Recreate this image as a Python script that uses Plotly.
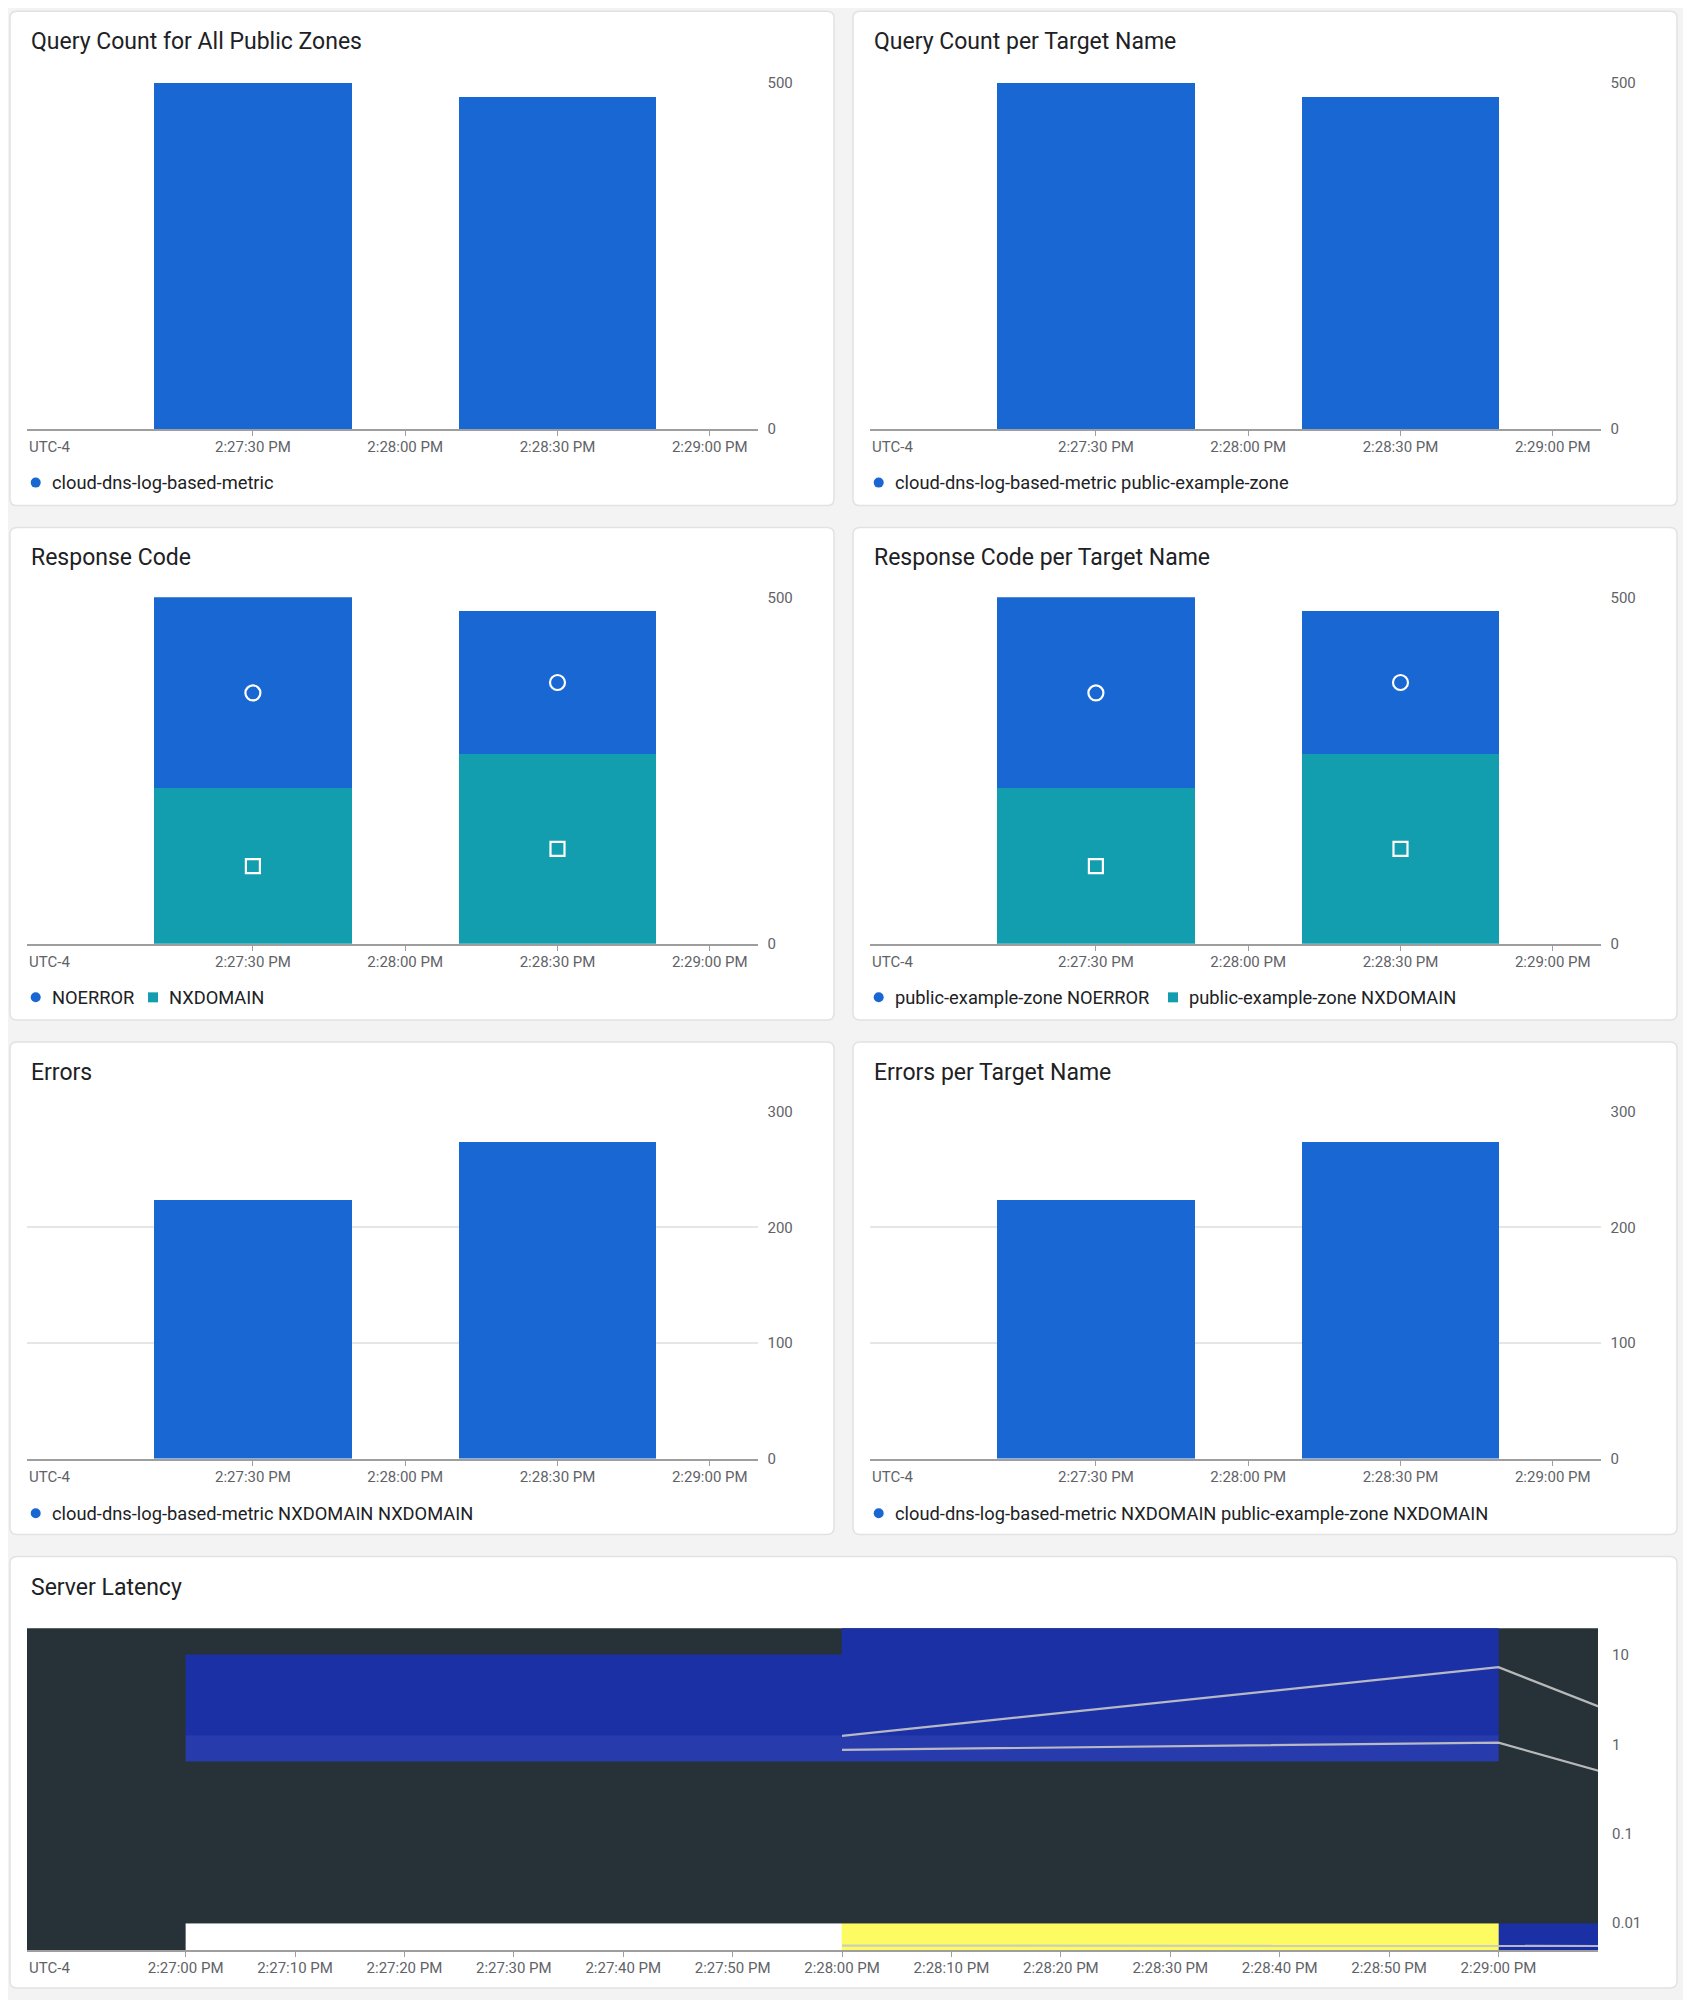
import plotly.graph_objects as go

# placement of the figure in the rendered page: body offset and vertical squeeze
OX, OY, SY = 8, 16, 2000 / 2016
WF, HF = 1675, 1992
DAY = "2023-06-01 "

# ---------------- data ----------------
bar_times = ["14:27:30", "14:28:30"]
query_count = [500, 480]
query_count_target = [500, 480]
noerror = [276, 206]
nxdomain = [224, 274]
errors = [224, 274]
errors_target = [224, 274]

bar_tick_times = ["14:27:30", "14:28:00", "14:28:30", "14:29:00"]
bar_tick_labels = ["2:27:30 PM", "2:28:00 PM", "2:28:30 PM", "2:29:00 PM"]
count_ticks = [0, 500]
error_ticks = [0, 100, 200, 300]

heat_time_edges = ["14:27:00", "14:28:00", "14:29:00", "14:30:00"]
latency_edges = [0.001, 0.01, 0.02, 0.04, 0.08, 0.16, 0.32, 0.64, 1.28, 2.56, 5.12, 10.24, 20.48]
# query counts per latency bucket (low -> high) for each minute column
latency_counts = [
    [497, 474, 1],   # < 0.01
    [0, 0, 0],       # 0.01 - 0.02
    [0, 0, 0],       # 0.02 - 0.04
    [0, 0, 0],       # 0.04 - 0.08
    [0, 0, 0],       # 0.08 - 0.16
    [0, 0, 0],       # 0.16 - 0.32
    [0, 0, 0],       # 0.32 - 0.64
    [2, 2, 0],       # 0.64 - 1.28
    [1, 1, 0],       # 1.28 - 2.56
    [1, 1, 0],       # 2.56 - 5.12
    [1, 1, 0],       # 5.12 - 10.24
    [0, 1, 0],       # 10.24 - 20.48
]
pct_times = ["14:28:00", "14:29:00", "14:30:00"]
p99 = [1.25, 7.35, 0.0095]
p95 = [0.87, 1.05, 0.009]
p50 = [0.0056, 0.0056, 0.0055]
heat_tick_times = ["14:27:00", "14:27:10", "14:27:20", "14:27:30", "14:27:40", "14:27:50",
                   "14:28:00", "14:28:10", "14:28:20", "14:28:30", "14:28:40", "14:28:50", "14:29:00"]
heat_tick_labels = ["2:27:00 PM", "2:27:10 PM", "2:27:20 PM", "2:27:30 PM", "2:27:40 PM", "2:27:50 PM",
                    "2:28:00 PM", "2:28:10 PM", "2:28:20 PM", "2:28:30 PM", "2:28:40 PM", "2:28:50 PM",
                    "2:29:00 PM"]
latency_ticks = [0.01, 0.1, 1, 10]
latency_tick_labels = ["0.01", "0.1", "1", "10"]

titles = ["Query Count for All Public Zones", "Query Count per Target Name",
          "Response Code", "Response Code per Target Name",
          "Errors", "Errors per Target Name", "Server Latency"]

# ---------------- style ----------------
BLUE = "#1967d2"
TEAL = "#129eaf"
FONT = "Roboto"
TXT = "#202124"
TICK = "#5f6368"
AXIS = "#9e9e9e"
GRID = "#e6e6e6"
BAR_W = 39000  # ms


def t(s):
    return DAY + s


def PX(x):
    return (x - OX) / WF


def PY(y):
    return 1 - (y / SY - OY) / HF


X_RANGE = [t("14:26:45.5"), t("14:29:09.4")]
X_RANGE_HEAT = [t("14:26:45.5"), t("14:29:09.1")]

fig = go.Figure()

# panel pixel boxes (target picture coordinates): (x0, x1, y0, y1)
boxes = {
    1: (27, 757.5, 81.6, 428.5),
    2: (870, 1600.5, 81.6, 428.5),
    3: (27, 757.5, 596.8, 943.7),
    4: (870, 1600.5, 596.8, 943.7),
    5: (27, 757.5, 1112, 1459),
    6: (870, 1600.5, 1112, 1459),
    7: (27, 1598, 1629, 1951),
}


def ax(n):
    return ("x" if n == 1 else f"x{n}"), ("y" if n == 1 else f"y{n}")


def bar(n, ys, color):
    xa, ya = ax(n)
    fig.add_trace(go.Bar(x=[t(s) for s in bar_times], y=ys, width=[BAR_W] * len(ys),
                         marker=dict(color=color, line=dict(width=0)),
                         xaxis=xa, yaxis=ya, showlegend=False, hoverinfo="skip"))


bar(1, query_count, BLUE)
bar(2, query_count_target, BLUE)
for n in (3, 4):
    bar(n, nxdomain, TEAL)
    bar(n, noerror, BLUE)
    xa, ya = ax(n)
    fig.add_trace(go.Scatter(x=[t(s) for s in bar_times],
                             y=[a + b / 2 for a, b in zip(nxdomain, noerror)],
                             mode="markers", xaxis=xa, yaxis=ya, showlegend=False, hoverinfo="skip",
                             marker=dict(symbol="circle-open", size=15, color="white",
                                         line=dict(width=2.2, color="white"))))
    fig.add_trace(go.Scatter(x=[t(s) for s in bar_times],
                             y=[a / 2 for a in nxdomain],
                             mode="markers", xaxis=xa, yaxis=ya, showlegend=False, hoverinfo="skip",
                             marker=dict(symbol="square-open", size=14, color="white",
                                         line=dict(width=2.2, color="white"))))
bar(5, errors, BLUE)
bar(6, errors_target, BLUE)

# heatmap
z = [[(v if v > 0 else None) for v in row] for row in latency_counts]
fig.add_trace(go.Heatmap(
    x=[t(s) for s in heat_time_edges], y=latency_edges, z=z,
    zmin=1, zmax=497, showscale=False, hoverinfo="skip",
    colorscale=[[0, "#1c30a6"], [0.001, "#1c30a6"], [0.003, "#3446b3"],
                [0.5, "#8f93d6"], [0.94, "#fcfc62"], [0.96, "#fcfc62"], [1.0, "#ffffff"]],
    xaxis="x7", yaxis="y7"))
for vals in (p99, p95, p50):
    fig.add_trace(go.Scatter(x=[t(s) for s in pct_times], y=vals, mode="lines",
                             line=dict(color="rgba(200,200,200,0.9)", width=2.2),
                             xaxis="x7", yaxis="y7", showlegend=False, hoverinfo="skip"))

# ---------------- layout ----------------
layout = dict(
    width=WF, height=HF, margin=dict(l=0, r=0, t=0, b=0),
    paper_bgcolor="#f3f3f3", plot_bgcolor="rgba(0,0,0,0)",
    barmode="stack", bargap=0, showlegend=False,
    font=dict(family=FONT, color=TICK, size=15),
)

for n, (x0, x1, y0, y1) in boxes.items():
    xk = "xaxis" if n == 1 else f"xaxis{n}"
    yk = "yaxis" if n == 1 else f"yaxis{n}"
    xa, ya = ax(n)
    if n < 7:
        tv, tt, rng = [t(s) for s in bar_tick_times], bar_tick_labels, X_RANGE
    else:
        tv, tt, rng = [t(s) for s in heat_tick_times], heat_tick_labels, X_RANGE_HEAT
    layout[xk] = dict(domain=[PX(x0), PX(x1)], anchor=ya, type="date", range=rng,
                      tickmode="array", tickvals=tv, ticktext=tt, showgrid=False, zeroline=False,
                      showline=True, linecolor=AXIS, linewidth=2, ticks="outside", ticklen=5,
                      tickwidth=1, tickcolor=AXIS, ticklabelstandoff=-2,
                      tickfont=dict(size=15, color=TICK, family=FONT), fixedrange=True)
    if n < 7:
        ticks = error_ticks if n >= 5 else count_ticks
        layout[yk] = dict(domain=[PY(y1), PY(y0)], anchor=xa, side="right",
                          range=[0, ticks[-1]], tickmode="array", tickvals=ticks,
                          ticktext=[str(v) for v in ticks], showgrid=True, gridcolor=GRID,
                          gridwidth=1.5, zeroline=False, showline=False, ticks="",
                          ticklabelstandoff=9, tickfont=dict(size=15, color=TICK, family=FONT),
                          fixedrange=True)
    else:
        layout[yk] = dict(domain=[PY(y1), PY(y0)], anchor=xa, side="right", type="log",
                          range=[-2.301, 1.301], tickmode="array", tickvals=latency_ticks,
                          ticktext=latency_tick_labels, showgrid=False, zeroline=False,
                          showline=False, ticks="", ticklabelstandoff=13,
                          tickfont=dict(size=15, color=TICK, family=FONT), fixedrange=True)


def rrect(x0, y0, x1, y1, r=7):
    rx, ry = r / WF, r / HF
    X0, X1 = PX(x0), PX(x1)
    YT, YB = PY(y0), PY(y1)
    return (f"M {X0+rx},{YT} L {X1-rx},{YT} Q {X1},{YT} {X1},{YT-ry} L {X1},{YB+ry} "
            f"Q {X1},{YB} {X1-rx},{YB} L {X0+rx},{YB} Q {X0},{YB} {X0},{YB+ry} "
            f"L {X0},{YT-ry} Q {X0},{YT} {X0+rx},{YT} Z")


cards = [(10, 10, 834, 505), (853, 10, 1677, 505),
         (10, 527, 834, 1020), (853, 527, 1677, 1020),
         (10, 1042, 834, 1535), (853, 1042, 1677, 1535),
         (10, 1557, 1677, 1989)]
shapes = []
for c in cards:
    shapes.append(dict(type="path", path=rrect(*c), xref="paper", yref="paper",
                       fillcolor="white", line=dict(color="#e2e2e2", width=1.5), layer="below"))
shapes.append(dict(type="rect", xref="x7 domain", yref="y7 domain", x0=0, x1=1, y0=0, y1=1,
                   fillcolor="#263238", line=dict(width=0), layer="below"))

annotations = []
title_pos = [(29.3, 40.8), (872.3, 40.8), (29.3, 557), (872.3, 557),
             (29.3, 1072.5), (872.3, 1072.5), (29.3, 1587.7)]
for (x, y), txt in zip(title_pos, titles):
    annotations.append(dict(text=txt, x=PX(x), y=PY(y), xref="paper", yref="paper",
                            xanchor="left", yanchor="middle", showarrow=False,
                            font=dict(family=FONT, size=23, color=TXT)))

# UTC-4 labels
for n, (x0, x1, y0, y1) in boxes.items():
    annotations.append(dict(text="UTC-4", x=PX(x0), y=PY(y1 + 18), xref="paper", yref="paper",
                            xanchor="left", yanchor="middle", showarrow=False,
                            font=dict(family=FONT, size=15, color=TICK)))

# legends: (symbol, color, symbol_x, text_x, y, text)
legends = [
    ("circle", BLUE, 35.7, 49.7, 482, "cloud-dns-log-based-metric"),
    ("circle", BLUE, 878.7, 892.7, 482, "cloud-dns-log-based-metric public-example-zone"),
    ("circle", BLUE, 35.7, 49.7, 997.3, "NOERROR"),
    ("rect", TEAL, 153, 167, 997.3, "NXDOMAIN"),
    ("circle", BLUE, 878.7, 892.7, 997.3, "public-example-zone NOERROR"),
    ("rect", TEAL, 1173, 1187.3, 997.3, "public-example-zone NXDOMAIN"),
    ("circle", BLUE, 35.7, 49.7, 1513.8, "cloud-dns-log-based-metric NXDOMAIN NXDOMAIN"),
    ("circle", BLUE, 878.7, 892.7, 1513.8, "cloud-dns-log-based-metric NXDOMAIN public-example-zone NXDOMAIN"),
]
for sym, col, sx, tx, y, txt in legends:
    r = 5
    shapes.append(dict(type=sym, xref="paper", yref="paper",
                       x0=PX(sx - r), x1=PX(sx + r), y0=PY(y + r), y1=PY(y - r),
                       fillcolor=col, line=dict(width=0)))
    annotations.append(dict(text=txt, x=PX(tx), y=PY(y), xref="paper", yref="paper",
                            xanchor="left", yanchor="middle", showarrow=False,
                            font=dict(family=FONT, size=18.3, color=TXT)))

layout["shapes"] = shapes
layout["annotations"] = annotations
fig.update_layout(**layout)

fig.write_html("out.html")
